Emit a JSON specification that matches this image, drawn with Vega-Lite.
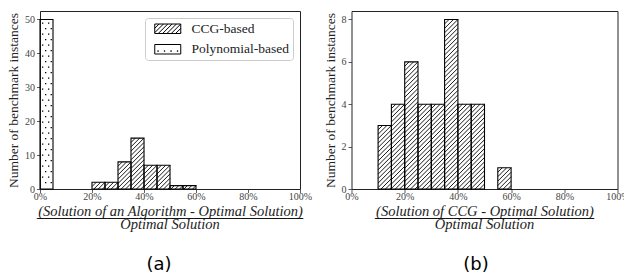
{
  "$schema": "https://vega.github.io/schema/vega-lite/v6.json",
  "background": "white",
  "padding": {"left": 6, "top": 10, "right": 0, "bottom": 0},
  "spacing": 9.5,
  "resolve": {"legend": {"fill": "independent"}, "scale": {"fill": "independent"}},
  "datasets": {
    "a": [
      {"method": "Polynomial-based", "b0": 0, "b1": 5, "count": 50},
      {"method": "CCG-based", "b0": 20, "b1": 25, "count": 2},
      {"method": "CCG-based", "b0": 25, "b1": 30, "count": 2},
      {"method": "CCG-based", "b0": 30, "b1": 35, "count": 8},
      {"method": "CCG-based", "b0": 35, "b1": 40, "count": 15},
      {"method": "CCG-based", "b0": 40, "b1": 45, "count": 7},
      {"method": "CCG-based", "b0": 45, "b1": 50, "count": 7},
      {"method": "CCG-based", "b0": 50, "b1": 55, "count": 1},
      {"method": "CCG-based", "b0": 55, "b1": 60, "count": 1}
    ],
    "b": [
      {"method": "CCG-based", "b0": 10, "b1": 15, "count": 3},
      {"method": "CCG-based", "b0": 15, "b1": 20, "count": 4},
      {"method": "CCG-based", "b0": 20, "b1": 25, "count": 6},
      {"method": "CCG-based", "b0": 25, "b1": 30, "count": 4},
      {"method": "CCG-based", "b0": 30, "b1": 35, "count": 4},
      {"method": "CCG-based", "b0": 35, "b1": 40, "count": 8},
      {"method": "CCG-based", "b0": 40, "b1": 45, "count": 4},
      {"method": "CCG-based", "b0": 45, "b1": 50, "count": 4},
      {"method": "CCG-based", "b0": 55, "b1": 60, "count": 1}
    ]
  },
  "hconcat": [
    {
      "title": {"text": "(a)", "orient": "bottom", "font": "DejaVu Sans", "fontSize": 18, "fontWeight": "normal", "color": "#000", "anchor": "middle", "offset": 24},
      "resolve": {"legend": {"fill": "independent"}, "scale": {"fill": "independent"}},
      "vconcat": [
        {
          "width": 260,
          "height": 178,
          "data": {"name": "a"},
          "title": {
            "text": "──────────────────────────────────",
            "orient": "bottom", "anchor": "middle", "frame": "group",
            "font": "DejaVu Sans Mono", "fontSize": 13, "fontWeight": "normal", "color": "#111",
            "offset": -5.5,
            "subtitle": "Optimal Solution",
            "subtitleFont": "Liberation Serif", "subtitleFontStyle": "italic", "subtitleFontSize": 14.5, "subtitleColor": "#222",
            "subtitlePadding": -8
          },
          "encoding": {
            "x": {"field": "b0", "type": "quantitative", "scale": {"domain": [0, 100], "nice": false},
              "axis": {"values": [0, 20, 40, 60, 80, 100], "labelExpr": "datum.value + '%'", "title": "(Solution of an Algorithm - Optimal Solution)"}},
            "y": {"field": "count", "type": "quantitative", "scale": {"domain": [0, 52.5], "nice": false},
              "axis": {"values": [0, 10, 20, 30, 40, 50], "title": "Number of benchmark instances", "titleFontStyle": "normal", "titleFontSize": 13.5}}
          },
          "layer": [
            {
              "transform": [{"filter": "datum.method === 'CCG-based'"}],
              "mark": {"type": "point", "shape": "M0,1L1,0M0,2L2,0M0,3L3,0M0,4L3,1M0,5L3,2M0,6L3,3M0,7L3,4M0,8L3,5M0,9L3,6M0,10L3,7M0,11L3,8M0,12L3,9M0,13L3,10M0,14L3,11M0,15L3,12M0,16L3,13M0,17L3,14M0,18L3,15M0,19L3,16M0,20L3,17M0,21L3,18M0,22L3,19M0,23L3,20M0,24L3,21M0,25L3,22M0,26L3,23M0,27L3,24M0,28L3,25M0,29L3,26M0,30L3,27M0,31L3,28M0,32L3,29M0,33L3,30M0,34L3,31M0,35L3,32M0,36L3,33M0,37L3,34M0,38L3,35M0,39L3,36M0,40L3,37M0,41L3,38M0,42L3,39", "size": 75.11, "filled": false, "stroke": "#000", "strokeWidth": 0.9, "opacity": 1, "clip": true}
            },
            {
              "transform": [{"filter": "datum.method === 'Polynomial-based'"}],
              "mark": {"type": "point", "shape": "M2,3h1.3v1.3h-1.3zM8,3h1.3v1.3h-1.3zM5,8.5h1.3v1.3h-1.3zM10.6,8.5h1.3v1.3h-1.3zM2,14h1.3v1.3h-1.3zM8,14h1.3v1.3h-1.3zM5,19.5h1.3v1.3h-1.3zM10.6,19.5h1.3v1.3h-1.3zM2,25h1.3v1.3h-1.3zM8,25h1.3v1.3h-1.3zM5,30.5h1.3v1.3h-1.3zM10.6,30.5h1.3v1.3h-1.3zM2,36h1.3v1.3h-1.3zM8,36h1.3v1.3h-1.3zM5,41.5h1.3v1.3h-1.3zM10.6,41.5h1.3v1.3h-1.3zM2,47h1.3v1.3h-1.3zM8,47h1.3v1.3h-1.3zM5,52.5h1.3v1.3h-1.3zM10.6,52.5h1.3v1.3h-1.3zM2,58h1.3v1.3h-1.3zM8,58h1.3v1.3h-1.3zM5,63.5h1.3v1.3h-1.3zM10.6,63.5h1.3v1.3h-1.3zM2,69h1.3v1.3h-1.3zM8,69h1.3v1.3h-1.3zM5,74.5h1.3v1.3h-1.3zM10.6,74.5h1.3v1.3h-1.3zM2,80h1.3v1.3h-1.3zM8,80h1.3v1.3h-1.3zM5,85.5h1.3v1.3h-1.3zM10.6,85.5h1.3v1.3h-1.3zM2,91h1.3v1.3h-1.3zM8,91h1.3v1.3h-1.3zM5,96.5h1.3v1.3h-1.3zM10.6,96.5h1.3v1.3h-1.3zM2,102h1.3v1.3h-1.3zM8,102h1.3v1.3h-1.3zM5,107.5h1.3v1.3h-1.3zM10.6,107.5h1.3v1.3h-1.3zM2,113h1.3v1.3h-1.3zM8,113h1.3v1.3h-1.3zM5,118.5h1.3v1.3h-1.3zM10.6,118.5h1.3v1.3h-1.3zM2,124h1.3v1.3h-1.3zM8,124h1.3v1.3h-1.3zM5,129.5h1.3v1.3h-1.3zM10.6,129.5h1.3v1.3h-1.3zM2,135h1.3v1.3h-1.3zM8,135h1.3v1.3h-1.3zM5,140.5h1.3v1.3h-1.3zM10.6,140.5h1.3v1.3h-1.3zM2,146h1.3v1.3h-1.3zM8,146h1.3v1.3h-1.3zM5,151.5h1.3v1.3h-1.3zM10.6,151.5h1.3v1.3h-1.3zM2,157h1.3v1.3h-1.3zM8,157h1.3v1.3h-1.3zM5,162.5h1.3v1.3h-1.3zM10.6,162.5h1.3v1.3h-1.3z", "size": 4, "filled": true, "fill": "#000", "strokeWidth": 0, "opacity": 1, "clip": true}
            },
            {
              "mark": {"type": "rect", "stroke": "#000", "strokeWidth": 1.1},
              "encoding": {
                "x2": {"field": "b1"},
                "y2": {"datum": 0},
                "fill": {"field": "method", "type": "nominal",
                  "scale": {"domain": ["CCG-based", "Polynomial-based"], "range": ["transparent", "transparent"]},
                  "legend": {
                    "title": null, "orient": "top-right", "offset": 7, "padding": 4,
                    "strokeColor": "#cccccc", "fillColor": "white", "cornerRadius": 3,
                    "labelFont": "Liberation Serif", "labelFontSize": 13.5, "labelColor": "#222",
                    "symbolSize": 4, "labelOffset": 29, "rowPadding": 5.5,
                    "encoding": {"symbols": {
                      "shape": {"value": {"signal": "datum.value === 'CCG-based' ? 'M-1,-4.75H25V4.75H-1ZM-1,-0.42L3.33,-4.75M-1,3.92L7.67,-4.75M2.5,4.75L12,-4.75M6.83,4.75L16.33,-4.75M11.17,4.75L20.67,-4.75M15.5,4.75L25,-4.75M19.83,4.75L25,-0.42M24.17,4.75L25,3.92' : 'M-1,-4.75H25V4.75H-1ZM2,1.5h0.6v0.6h-0.6zM8.5,1.5h0.6v0.6h-0.6zM15,1.5h0.6v0.6h-0.6zM21.5,1.5h0.6v0.6h-0.6z'"}},
                      "stroke": {"value": "#000"}, "strokeWidth": {"value": 1}, "fill": {"value": "transparent"}, "opacity": {"value": 1}
                    }}
                  }
                }
              }
            }
          ]
        }
      ]
    },
    {
      "title": {"text": "(b)", "orient": "bottom", "font": "DejaVu Sans", "fontSize": 18, "fontWeight": "normal", "color": "#000", "anchor": "middle", "offset": 24},
      "vconcat": [
        {
          "width": 266,
          "height": 178,
          "data": {"name": "b"},
          "title": {
            "text": "────────────────────────────",
            "orient": "bottom", "anchor": "middle", "frame": "group",
            "font": "DejaVu Sans Mono", "fontSize": 13, "fontWeight": "normal", "color": "#111",
            "offset": -5.5,
            "subtitle": "Optimal Solution",
            "subtitleFont": "Liberation Serif", "subtitleFontStyle": "italic", "subtitleFontSize": 14.5, "subtitleColor": "#222",
            "subtitlePadding": -8
          },
          "encoding": {
            "x": {"field": "b0", "type": "quantitative", "scale": {"domain": [0, 100], "nice": false},
              "axis": {"values": [0, 20, 40, 60, 80, 100], "labelExpr": "datum.value + '%'", "title": "(Solution of CCG - Optimal Solution)"}},
            "y": {"field": "count", "type": "quantitative", "scale": {"domain": [0, 8.4], "nice": false},
              "axis": {"values": [0, 2, 4, 6, 8], "title": "Number of benchmark instances", "titleFontStyle": "normal", "titleFontSize": 13.5}}
          },
          "layer": [
            {
              "mark": {"type": "point", "shape": "M0,1L1,0M0,2L2,0M0,3L3,0M0,4L3,1M0,5L3,2M0,6L3,3M0,7L3,4M0,8L3,5M0,9L3,6M0,10L3,7M0,11L3,8M0,12L3,9M0,13L3,10M0,14L3,11M0,15L3,12M0,16L3,13M0,17L3,14M0,18L3,15M0,19L3,16M0,20L3,17M0,21L3,18M0,22L3,19M0,23L3,20M0,24L3,21M0,25L3,22M0,26L3,23M0,27L3,24M0,28L3,25M0,29L3,26M0,30L3,27M0,31L3,28M0,32L3,29M0,33L3,30M0,34L3,31M0,35L3,32M0,36L3,33M0,37L3,34M0,38L3,35M0,39L3,36M0,40L3,37M0,41L3,38M0,42L3,39", "size": 78.62, "filled": false, "stroke": "#000", "strokeWidth": 0.9, "opacity": 1, "clip": true}
            },
            {
              "mark": {"type": "rect", "stroke": "#000", "strokeWidth": 1.1, "fill": "transparent"},
              "encoding": {"x2": {"field": "b1"}, "y2": {"datum": 0}}
            }
          ]
        }
      ]
    }
  ],
  "config": {
    "font": "Liberation Serif",
    "view": {"stroke": "#222", "strokeWidth": 1},
    "axis": {
      "grid": false, "domain": false, "tickSize": 3.5, "tickColor": "#333", "tickWidth": 0.8,
      "labelFont": "Liberation Serif", "labelFontSize": 10, "labelColor": "#444", "labelPadding": 1.5,
      "labelFlush": false, "labelOverlap": false, "labelBound": false,
      "titleFont": "Liberation Serif", "titleFontSize": 14.5, "titleFontWeight": "normal", "titleFontStyle": "italic", "titleColor": "#222", "titlePadding": 3
    },
    "axisX": {"labelPadding": -1},
    "axisY": {"labelPadding": 2, "titlePadding": 4}
  }
}
